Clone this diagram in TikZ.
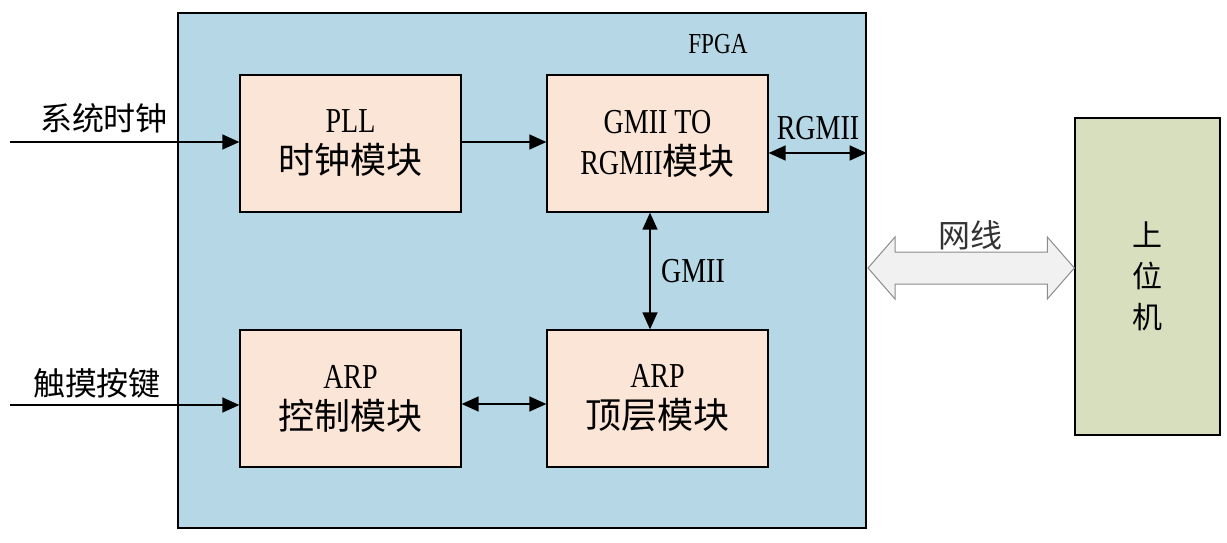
\documentclass[tikz,border=0pt]{standalone}
\usepackage{fontspec}
\setmainfont[FakeStretch=0.8]{Liberation Serif}
\newfontfamily\cjk{Noto Sans CJK SC}
\usetikzlibrary{arrows.meta,calc}
\definecolor{fpgablue}{RGB}{182,216,230}
\definecolor{modulepeach}{RGB}{251,229,214}
\definecolor{hostgreen}{RGB}{216,223,190}
\definecolor{cablegray}{RGB}{241,241,241}
\newcommand{\cnbox}[1]{{\cjk\fontsize{36}{41}\selectfont #1}}
\tikzset{
  fpga frame/.style={draw=black,line width=1.3pt,fill=fpgablue,minimum width=688pt,minimum height=515pt,inner sep=0pt},
  module box/.style={draw=black,line width=1.3pt,fill=modulepeach,minimum width=221pt,minimum height=137pt,
    inner sep=0pt,align=center,font=\fontsize{35}{41}\selectfont},
  host box/.style={draw=black,line width=1.3pt,fill=hostgreen,minimum width=145pt,minimum height=317pt,
    inner sep=0pt,align=center,font=\cjk\fontsize{30}{41}\selectfont},
  signal/.style={-{Triangle[length=17pt,width=15pt]},line width=1.4pt},
  both signal/.style={{Triangle[length=17pt,width=15pt]}-{Triangle[length=17pt,width=15pt]},line width=1.4pt},
  signal label/.style={font=\fontsize{35}{38}\selectfont,inner sep=0pt},
  cn label/.style={font=\cjk\fontsize{32}{36}\selectfont,inner sep=0pt}
}

\begin{document}
\begin{tikzpicture}[x=1pt,y=-1pt]
    \useasboundingbox (0,0) rectangle (1227,543);
    % FPGA and its modules
    \node[fpga frame] (fpga) at (522,270.5) {};
    \node[signal label,font=\fontsize{29}{32}\selectfont] (fpgalabel) at (718,44) {FPGA};
    \node[module box] (pll) at (350.5,143.5) {PLL\\\cnbox{时钟模块}};
    \node[module box] (gmii) at (657.5,143.5) {GMII TO\\RGMII\cnbox{模块}};
    \node[module box] (arpctrl) at (350.5,398.5) {ARP\\\cnbox{控制模块}};
    \node[module box] (arptop) at (657.5,398.5) {ARP\\\cnbox{顶层模块}};
    \node[host box] (host) at (1147.5,276.5) {上\\位\\机};
    % inputs
    \coordinate (clkin) at (10,142);
    \coordinate (keyin) at (10,405);
    \draw[signal] (clkin) -- (clkin -| pll.west);
    \draw[signal] (keyin) -- (keyin -| arpctrl.west);
    \node[cn label] (clklabel) at (104,118) {系统时钟};
    \node[cn label] (keylabel) at (97,383) {触摸按键};
    % internal links
    \coordinate (pllout) at ($(pll.east)+(0,-1.5)$);
    \draw[signal] (pllout) -- (pllout -| gmii.west);
    \coordinate (rgmiiL) at ($(gmii.east)+(0,9.5)$);
    \draw[both signal] (rgmiiL) -- (rgmiiL -| fpga.east);
    \node[signal label] (rgmiilabel) at (818,128) {RGMII};
    \draw[both signal] ($(gmii.south)+(-7.5,0)$) -- ($(arptop.north)+(-7.5,0)$);
    \node[signal label] (gmiilabel) at (693,271) {GMII};
    \draw[both signal] ($(arpctrl.east)+(0,5.5)$) -- ($(arptop.west)+(0,5.5)$);
    % cable to host
    \coordinate (cableL) at (868,268);
    \coordinate (cableR) at (host.west |- cableL);
    \draw[black!45,line width=1pt,fill=cablegray] (cableL) -- ++(27,-31) -- ++(0,15) -- ($(cableR)+(-27,-16)$)
      -- ++(0,-15) -- (cableR) -- ++(-27,31) -- ++(0,-15) -- ($(cableL)+(27,16)$) -- ++(0,15) -- cycle;
    \node[cn label,text=black!80] (cablelabel) at (970,235) {网线};
\end{tikzpicture}
\end{document}
